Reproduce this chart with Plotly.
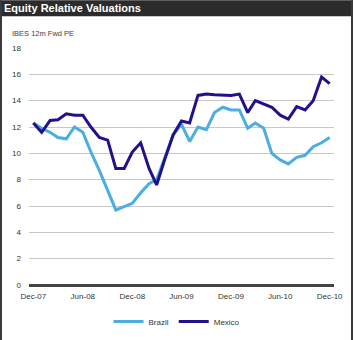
import plotly.graph_objects as go
import pandas as pd

months = pd.date_range("2007-12-01", "2010-12-01", freq="MS").strftime("%Y-%m-%d").tolist()

brazil = [12.3, 11.9, 11.6, 11.2, 11.1, 12.0, 11.6, 10.1, 8.7, 7.2, 5.7, 5.95, 6.2,
          7.0, 7.7, 8.0, 9.8, 11.4, 12.2, 10.9, 12.0, 11.8, 13.1, 13.5, 13.3, 13.3,
          11.9, 12.3, 11.9, 10.0, 9.5, 9.2, 9.7, 9.85, 10.5, 10.8, 11.2]
mexico = [12.3, 11.6, 12.5, 12.55, 13.0, 12.9, 12.9, 12.0, 11.2, 11.0, 8.85, 8.85, 10.1,
          10.8, 8.85, 7.6, 9.6, 11.4, 12.45, 12.3, 14.4, 14.5, 14.45, 14.4, 14.4, 14.5,
          13.1, 14.0, 13.75, 13.5, 12.9, 12.6, 13.55, 13.3, 14.0, 15.8, 15.3]

y_ticks = [0, 2, 4, 6, 8, 10, 12, 14, 16, 18]
title_text = "Equity Relative Valuations"
y_title = "IBES 12m Fwd PE"

fig = go.Figure()
fig.add_trace(go.Scatter(x=months, y=brazil, name="Brazil", mode="lines",
                         line=dict(color="#4aaee2", width=3)))
fig.add_trace(go.Scatter(x=months, y=mexico, name="Mexico", mode="lines",
                         line=dict(color="#23118c", width=3)))

W, H = 354, 340
L, R, T, B = 29, 20, 47.7, 55
pw, ph = W - L - R, H - T - B

def px(xp):
    return (xp - L) / pw

def py(yp):
    return (H - B - yp) / ph

fig.update_layout(
    width=W, height=H,
    margin=dict(l=L, r=R, t=T, b=B, pad=0, autoexpand=False),
    paper_bgcolor="white", plot_bgcolor="white",
    font=dict(family="Liberation Sans, Arial, sans-serif", size=8, color="#333333"),
    showlegend=True,
    legend=dict(orientation="h", xref="container", yref="container",
                x=0.5, xanchor="center", y=1 - 307 / H, yanchor="top",
                font=dict(size=8, color="#333333"), itemwidth=30,
                tracegroupgap=0, itemclick=False),
    xaxis=dict(type="date", range=["2007-11-15", "2010-12-17"],
               tickvals=months[::6], tickformat="%b-%y", automargin=False,
               showgrid=False, zeroline=False, showline=False, ticks="",
               ticklabelstandoff=5,
               tickfont=dict(size=8, color="#333333"), fixedrange=True),
    yaxis=dict(range=[0, 18], tickvals=y_ticks, showgrid=True, automargin=False,
               gridcolor="#c8c8c8", gridwidth=1, zeroline=True,
               zerolinecolor="#444444", zerolinewidth=2.5, showline=False,
               ticks="", ticklabelstandoff=7,
               tickfont=dict(size=8, color="#333333"), fixedrange=True),
    shapes=[
        dict(type="rect", xref="paper", yref="paper", x0=px(0), x1=px(353),
             y0=py(16), y1=py(0), fillcolor="#2b2b2b", line=dict(width=0), layer="above"),
        dict(type="line", xref="paper", yref="paper", x0=px(1), x1=px(1),
             y0=py(340), y1=py(0), line=dict(color="#3a3a3a", width=2)),
        dict(type="line", xref="paper", yref="paper", x0=px(352), x1=px(352),
             y0=py(340), y1=py(0), line=dict(color="#3a3a3a", width=2)),
    ],
    annotations=[
        dict(text="<b>" + title_text + "</b>", xref="paper", yref="paper",
             x=px(2), y=py(8), xanchor="left", yanchor="middle", showarrow=False,
             font=dict(size=11, color="white", family="Liberation Sans, Arial, sans-serif")),
        dict(text=y_title, xref="paper", yref="paper", x=px(10), y=py(33),
             xanchor="left", yanchor="middle", showarrow=False,
             font=dict(size=7.5, color="#4a3a3a")),
    ],
)

fig.write_html("out.html", config={"displayModeBar": False})
